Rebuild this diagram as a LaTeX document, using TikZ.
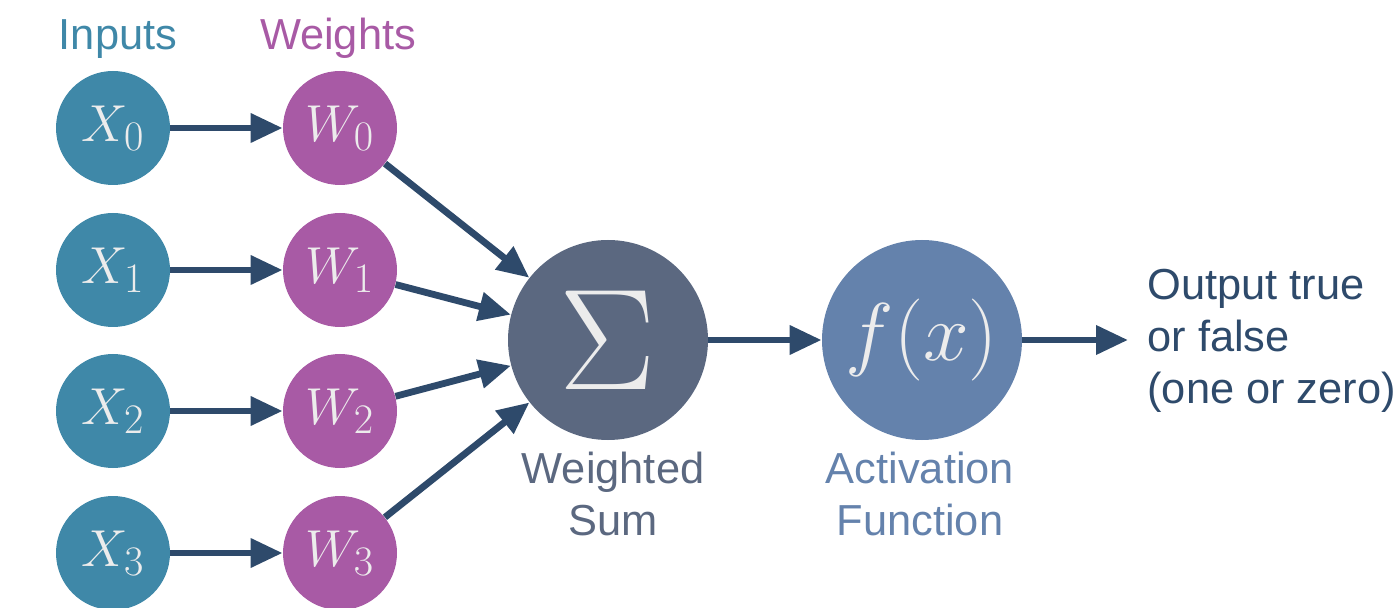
\RequirePackage{fix-cm}
\documentclass[tikz,border=0pt]{standalone}
\usepackage[no-math]{fontspec}
\setmainfont{Liberation Sans}
\usetikzlibrary{arrows.meta}
\definecolor{inp}{HTML}{3F88A8}
\definecolor{wgt}{HTML}{A85AA5}
\definecolor{sumc}{HTML}{5B6880}
\definecolor{actc}{HTML}{6482AC}
\definecolor{arr}{HTML}{2E4A6B}
\definecolor{mtxt}{HTML}{ECECEC}
\DeclareMathSizes{26}{26}{21}{16}
\begin{document}
\begin{tikzpicture}[x=0.5pt,y=-0.5pt,
  conn/.style={draw=arr, line width=3.4pt, -{Triangle[length=16pt,width=14pt]}},
  smallnode/.style={circle, minimum size=57pt, inner sep=0pt, text=mtxt, font=\fontsize{26}{30}\selectfont},
  inpnode/.style={smallnode, fill=inp},
  wgtnode/.style={smallnode, fill=wgt},
  bignode/.style={circle, minimum size=100pt, inner sep=0pt, text=mtxt},
  lab/.style={inner sep=0pt, font=\fontsize{21.7}{26}\selectfont, align=center}]
\useasboundingbox (0,0) rectangle (1400,608);
\node[inpnode] (x0) at (113,128) {$X_0$};
\node[inpnode] (x1) at (113,270) {$X_1$};
\node[inpnode] (x2) at (113,411) {$X_2$};
\node[inpnode] (x3) at (113,553) {$X_3$};
\node[wgtnode] (w0) at (340,128) {$W_0$};
\node[wgtnode] (w1) at (340,270) {$W_1$};
\node[wgtnode] (w2) at (340,411) {$W_2$};
\node[wgtnode] (w3) at (340,553) {$W_3$};
\node[bignode, fill=sumc, font=\fontsize{72}{80}\selectfont] (s) at (608,340) {$\Sigma$};
\node[bignode, fill=actc, font=\fontsize{41}{48}\selectfont] (f) at (922,340) {$f(x)$};
\coordinate (out) at (1128,340);
\node[lab, text=inp, anchor=base] (linp) at (118,50) {Inputs};
\node[lab, text=wgt, anchor=base] (lwgt) at (338,50) {Weights};
\node[lab, text=sumc, anchor=north] (lsum) at (613,452) {Weighted\\Sum};
\node[lab, text=actc, anchor=north] (lact) at (920,452) {Activation\\Function};
\node[lab, text=arr, anchor=north west, align=left] (lout) at (1147,269) {Output true\\or false\\(one or zero)};
\foreach \i in {0,1,2,3} {
  \draw[conn] (x\i) -- (w\i);
  \draw[conn] (w\i) -- (s);
}
\draw[conn] (s) -- (f);
\draw[conn] (f) -- (out);
\end{tikzpicture}
\end{document}
